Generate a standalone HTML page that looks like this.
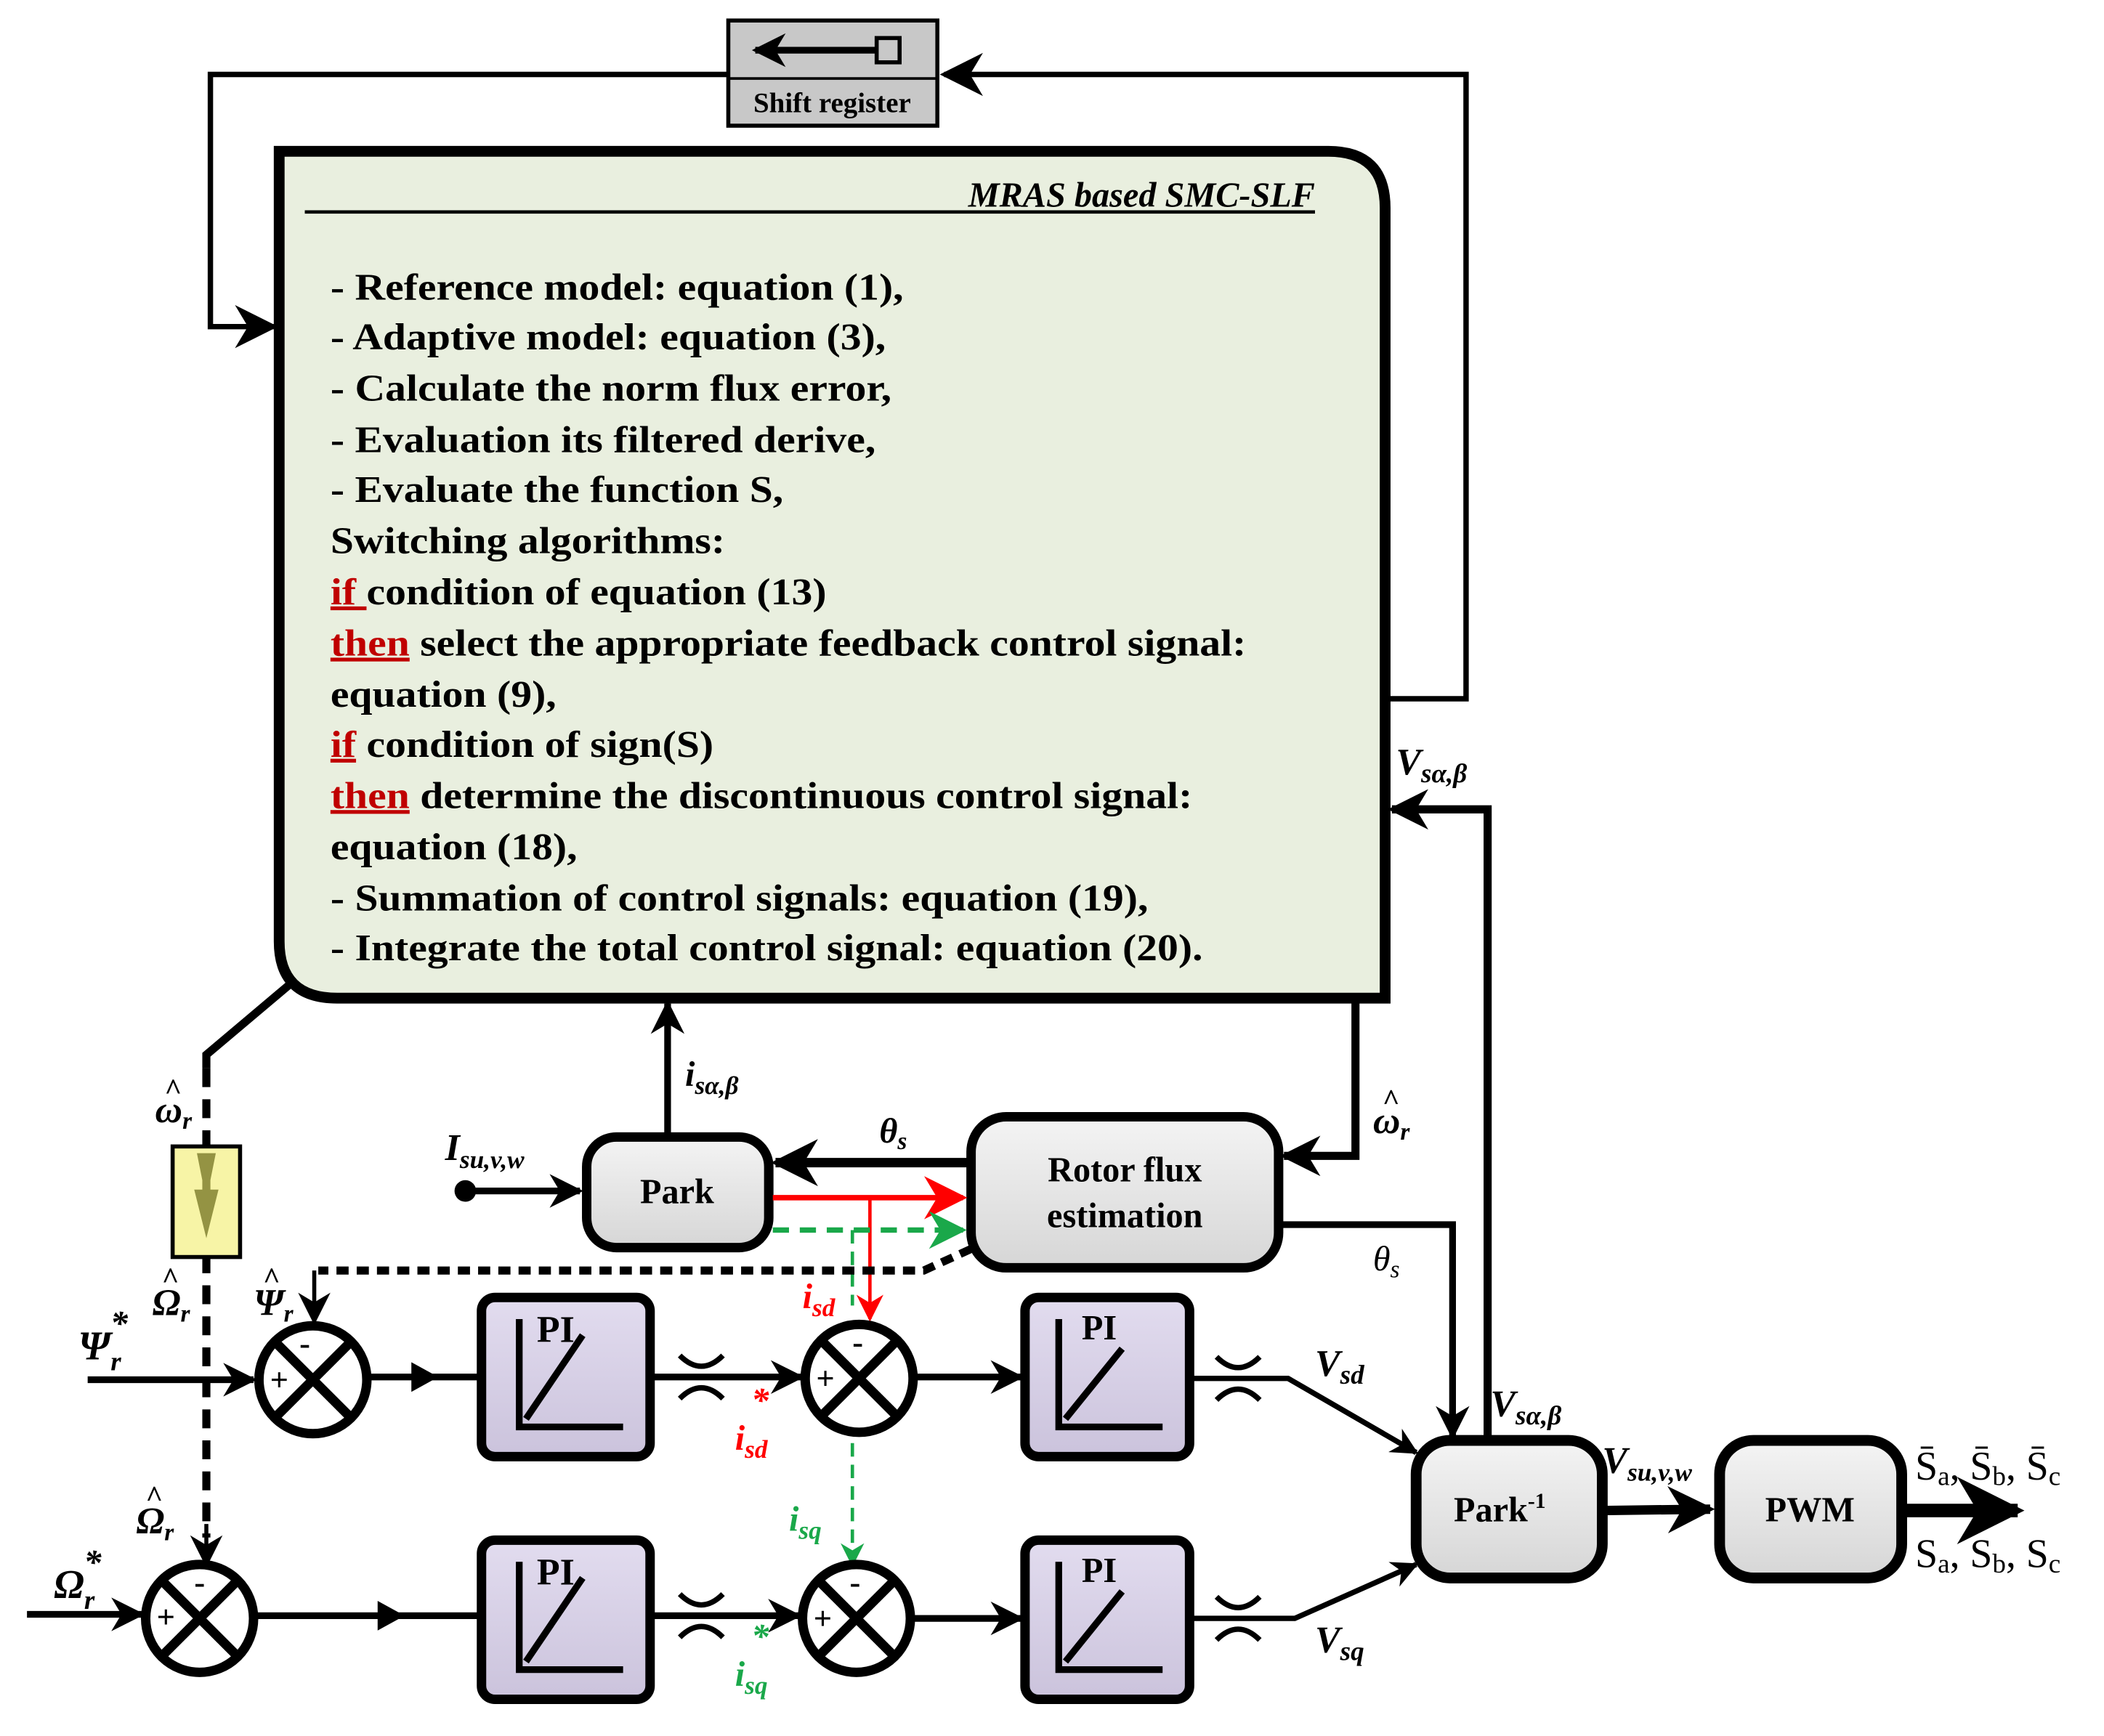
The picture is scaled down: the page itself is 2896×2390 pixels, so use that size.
<!DOCTYPE html>
<html><head><meta charset="utf-8"><style>
html,body{margin:0;padding:0;background:#fff}
svg{display:block}
text{font-family:"Liberation Serif",serif;font-weight:bold}
.it{font-style:italic}
</style></head><body>
<svg width="2896" height="2390" viewBox="0 0 1560 1287" xmlns="http://www.w3.org/2000/svg">
<defs>
<marker id="ah" viewBox="0 0 10 10" refX="9" refY="5" markerWidth="5" markerHeight="5" orient="auto-start-reverse"><path d="M0,0 L10,5 L0,10 L3,5z" fill="#000"/></marker>
<marker id="ahs" viewBox="0 0 10 10" refX="9" refY="5" markerWidth="8" markerHeight="8" orient="auto"><path d="M0,0 L10,5 L0,10 L3,5z" fill="#000"/></marker>
<marker id="ahr" viewBox="0 0 10 10" refX="9" refY="5" markerWidth="8" markerHeight="8" orient="auto"><path d="M0,0 L10,5 L0,10 L3,5z" fill="#f00"/></marker>
<marker id="ahg" viewBox="0 0 10 10" refX="9" refY="5" markerWidth="7" markerHeight="7" orient="auto"><path d="M0,0 L10,5 L0,10 L3,5z" fill="#1aa84a"/></marker>
<linearGradient id="gb" x1="0" y1="0" x2="0" y2="1"><stop offset="0" stop-color="#f4f4f4"/><stop offset="1" stop-color="#d6d6d6"/></linearGradient>
<linearGradient id="pb" x1="0" y1="0" x2="0" y2="1"><stop offset="0" stop-color="#e2dcef"/><stop offset="1" stop-color="#cbc3dc"/></linearGradient>
<g id="lim" fill="none" stroke="#000" stroke-width="4"><path d="M-16,-16 Q0,0 16,-16"/><path d="M-16,16 Q0,0 16,16"/></g>
<g id="sum"><circle r="40" fill="#fff" stroke="#000" stroke-width="7"/><path d="M-27,-27 L27,27 M27,-27 L-27,27" stroke="#000" stroke-width="7"/></g>
</defs>

<!-- shift register -->
<rect x="540" y="15" width="155" height="78" fill="#c8c8c8" stroke="#000" stroke-width="3"/>
<line x1="540" y1="58" x2="695" y2="58" stroke="#000" stroke-width="2"/>
<line x1="650" y1="37" x2="560" y2="37" stroke="#000" stroke-width="5" marker-end="url(#ah)"/>
<rect x="650" y="28" width="17" height="18" fill="#c8c8c8" stroke="#000" stroke-width="3"/>
<text x="617" y="83" font-size="21" text-anchor="middle">Shift register</text>

<!-- feedback loop -->
<polyline points="1028,518 1087,518 1087,55 700,55" fill="none" stroke="#000" stroke-width="4" marker-end="url(#ahs)"/>
<polyline points="540,55 156,55 156,242 203,242" fill="none" stroke="#000" stroke-width="4" marker-end="url(#ahs)"/>

<!-- main box -->
<path d="M207,112 L985,112 Q1027,112 1027,154 L1027,740 L250,740 Q207,740 207,698 Z" fill="#e9efdf" stroke="#000" stroke-width="8"/>
<text x="975" y="153" font-size="26" class="it" text-anchor="end">MRAS based SMC-SLF</text>
<line x1="226" y1="157" x2="975" y2="157" stroke="#000" stroke-width="2.5"/>
<g font-size="28" transform="translate(245,0) scale(1.11,1) translate(-245,0)">
<text x="245" y="222">- Reference model: equation (1),</text>
<text x="245" y="259">- Adaptive model: equation (3),</text>
<text x="245" y="297">- Calculate the norm flux error,</text>
<text x="245" y="335">- Evaluation its filtered derive,</text>
<text x="245" y="372">- Evaluate the function S,</text>
<text x="245" y="410">Switching algorithms:</text>
<text x="245" y="448"><tspan fill="#c00000" text-decoration="underline">if </tspan>condition of equation (13)</text>
<text x="245" y="486"><tspan fill="#c00000" text-decoration="underline">then</tspan> select the appropriate feedback control signal:</text>
<text x="245" y="524">equation (9),</text>
<text x="245" y="561"><tspan fill="#c00000" text-decoration="underline">if</tspan> condition of sign(S)</text>
<text x="245" y="599"><tspan fill="#c00000" text-decoration="underline">then</tspan> determine the discontinuous control signal:</text>
<text x="245" y="637">equation (18),</text>
<text x="245" y="675">- Summation of control signals: equation (19),</text>
<text x="245" y="712">- Integrate the total control signal: equation (20).</text>
</g>

<!-- omega hat left path -->
<polyline points="217,728 153,782 153,792" fill="none" stroke="#000" stroke-width="6"/>
<line x1="153" y1="792" x2="153" y2="1140" stroke="#000" stroke-width="6" stroke-dasharray="14,9"/>
<line x1="153" y1="1130" x2="153" y2="1160" stroke="#000" stroke-width="3" marker-end="url(#ahs)"/>
<text x="115" y="832" font-size="28" class="it">ω<tspan font-size="18" dy="5">r</tspan></text>
<text x="122" y="815" font-size="22">^</text>
<rect x="128" y="850" width="50" height="82" fill="#f7f4a6" stroke="#000" stroke-width="3"/>
<path d="M146,855 L160,855 L156,875 L156,882 L162,882 L153,918 L144,882 L150,882 L150,875 Z" fill="#7b7a2a" opacity="0.8"/>
<text x="113" y="975" font-size="28" class="it">Ω<tspan font-size="18" dy="5">r</tspan></text>
<text x="120" y="955" font-size="22">^</text>
<text x="101" y="1137" font-size="28" class="it">Ω<tspan font-size="18" dy="5">r</tspan></text>
<text x="108" y="1117" font-size="22">^</text>

<!-- Vs alpha beta to box -->
<polyline points="1103,1065 1103,600 1032,600" fill="none" stroke="#000" stroke-width="6" marker-end="url(#ah)"/>
<text x="1035" y="574" font-size="28" class="it">V<tspan font-size="20" dy="6">sα,β</tspan></text>
<text x="1105" y="1050" font-size="28" class="it">V<tspan font-size="20" dy="6">sα,β</tspan></text>

<!-- isab -->
<line x1="495" y1="840" x2="495" y2="744" stroke="#000" stroke-width="5" marker-end="url(#ah)"/>
<text x="508" y="805" font-size="26" class="it">i<tspan font-size="19" dy="6">sα,β</tspan></text>

<!-- omega hat right -->
<polyline points="1005,742 1005,857 952,857" fill="none" stroke="#000" stroke-width="6" marker-end="url(#ah)"/>
<text x="1018" y="840" font-size="28" class="it">ω<tspan font-size="18" dy="5">r</tspan></text>
<text x="1025" y="823" font-size="22">^</text>

<!-- Park -->
<rect x="435" y="843" width="135" height="82" rx="22" fill="url(#gb)" stroke="#000" stroke-width="7"/>
<text x="502" y="892" font-size="26" text-anchor="middle">Park</text>
<!-- Rotor flux -->
<rect x="720" y="828" width="228" height="112" rx="26" fill="url(#gb)" stroke="#000" stroke-width="7"/>
<text x="834" y="876" font-size="26" text-anchor="middle">Rotor flux</text>
<text x="834" y="910" font-size="26" text-anchor="middle">estimation</text>

<line x1="720" y1="862" x2="575" y2="862" stroke="#000" stroke-width="7" marker-end="url(#ah)"/>
<text x="652" y="847" font-size="26" class="it">θ<tspan font-size="18" dy="5">s</tspan></text>

<circle cx="345" cy="883" r="8" fill="#000"/>
<line x1="345" y1="883" x2="430" y2="883" stroke="#000" stroke-width="5" marker-end="url(#ah)"/>
<text x="330" y="860" font-size="28" class="it">I<tspan font-size="19" dy="6">su,v,w</tspan></text>

<!-- red -->
<line x1="573" y1="888" x2="714" y2="888" stroke="#f00" stroke-width="4" marker-end="url(#ahr)"/>
<line x1="645" y1="888" x2="645" y2="978" stroke="#f00" stroke-width="2.5" marker-end="url(#ahr)"/>
<text x="595" y="970" font-size="26" class="it" fill="#f00">i<tspan font-size="19" dy="6">sd</tspan></text>
<!-- green -->
<line x1="573" y1="912" x2="714" y2="912" stroke="#1aa84a" stroke-width="4" stroke-dasharray="12,8" marker-end="url(#ahg)"/>
<line x1="632" y1="912" x2="632" y2="968" stroke="#1aa84a" stroke-width="2.5" stroke-dasharray="10,6"/>
<line x1="632" y1="1070" x2="632" y2="1160" stroke="#1aa84a" stroke-width="2.5" stroke-dasharray="10,6" marker-end="url(#ahg)"/>
<text x="585" y="1135" font-size="26" class="it" fill="#1aa84a">i<tspan font-size="19" dy="6">sq</tspan></text>

<!-- dotted psi -->
<polyline points="720,926 685,942 236,942" fill="none" stroke="#000" stroke-width="6" stroke-dasharray="9,6"/>
<line x1="233" y1="942" x2="233" y2="980" stroke="#000" stroke-width="3" marker-end="url(#ahs)"/>
<text x="188" y="975" font-size="28" class="it">Ψ<tspan font-size="18" dy="5">r</tspan></text>
<text x="195" y="955" font-size="22">^</text>

<!-- theta to park-1 -->
<polyline points="948,908 1077,908 1077,1065" fill="none" stroke="#000" stroke-width="5" marker-end="url(#ah)"/>
<text x="1018" y="942" font-size="26" style="font-weight:normal" class="it">θ<tspan font-size="18" dy="5">s</tspan></text>

<!-- Row 1 -->
<line x1="65" y1="1023" x2="188" y2="1023" stroke="#000" stroke-width="5" marker-end="url(#ah)"/>
<text x="58" y="1008" font-size="30" class="it">Ψ<tspan font-size="20" dy="8">r</tspan><tspan font-size="26" dx="-8" dy="-26">*</tspan></text>
<use href="#sum" x="232" y="1023"/>
<text x="226" y="1004" font-size="24" text-anchor="middle">-</text>
<text x="207" y="1031" font-size="24" text-anchor="middle">+</text>
<line x1="272" y1="1021" x2="355" y2="1021" stroke="#000" stroke-width="5"/>
<path d="M305,1010 L325,1021 L305,1032 Z" fill="#000"/>
<rect x="357" y="962" width="125" height="118" rx="10" fill="url(#pb)" stroke="#000" stroke-width="7"/>
<text x="412" y="995" font-size="28" text-anchor="middle">PI</text>
<path d="M385,978 L385,1058 L462,1058 M390,1052 L432,990" fill="none" stroke="#000" stroke-width="5"/>
<line x1="482" y1="1021" x2="594" y2="1021" stroke="#000" stroke-width="5" marker-end="url(#ah)"/>
<use href="#lim" x="520" y="1021"/>
<text x="545" y="1075" font-size="26" class="it" fill="#f00">i<tspan font-size="19" dy="6">sd</tspan><tspan font-size="26" dx="-12" dy="-34">*</tspan></text>
<use href="#sum" x="637" y="1022"/>
<text x="636" y="1003" font-size="24" text-anchor="middle">-</text>
<text x="612" y="1030" font-size="24" text-anchor="middle">+</text>
<line x1="677" y1="1021" x2="757" y2="1021" stroke="#000" stroke-width="5" marker-end="url(#ah)"/>
<rect x="760" y="962" width="122" height="118" rx="10" fill="url(#pb)" stroke="#000" stroke-width="7"/>
<text x="815" y="993" font-size="26" text-anchor="middle">PI</text>
<path d="M785,978 L785,1058 L862,1058 M790,1052 L832,1000" fill="none" stroke="#000" stroke-width="5"/>
<polyline points="882,1022 955,1022 1050,1077" fill="none" stroke="#000" stroke-width="4" marker-end="url(#ah)"/>
<use href="#lim" x="918" y="1022"/>
<text x="975" y="1020" font-size="28" class="it">V<tspan font-size="20" dy="6">sd</tspan></text>

<!-- Row 2 -->
<line x1="20" y1="1197" x2="105" y2="1197" stroke="#000" stroke-width="5" marker-end="url(#ah)"/>
<text x="40" y="1185" font-size="30" class="it">Ω<tspan font-size="20" dy="8">r</tspan><tspan font-size="26" dx="-8" dy="-26">*</tspan></text>
<use href="#sum" x="148" y="1200"/>
<text x="148" y="1181" font-size="24" text-anchor="middle">-</text>
<text x="123" y="1207" font-size="24" text-anchor="middle">+</text>
<line x1="188" y1="1198" x2="355" y2="1198" stroke="#000" stroke-width="5"/>
<path d="M280,1187 L300,1198 L280,1209 Z" fill="#000"/>
<rect x="357" y="1142" width="125" height="118" rx="10" fill="url(#pb)" stroke="#000" stroke-width="7"/>
<text x="412" y="1175" font-size="28" text-anchor="middle">PI</text>
<path d="M385,1158 L385,1238 L462,1238 M390,1232 L432,1170" fill="none" stroke="#000" stroke-width="5"/>
<line x1="482" y1="1198" x2="592" y2="1198" stroke="#000" stroke-width="5" marker-end="url(#ah)"/>
<use href="#lim" x="520" y="1198"/>
<text x="545" y="1250" font-size="26" class="it" fill="#1aa84a">i<tspan font-size="19" dy="6">sq</tspan><tspan font-size="26" dx="-12" dy="-34">*</tspan></text>
<use href="#sum" x="635" y="1200"/>
<text x="634" y="1181" font-size="24" text-anchor="middle">-</text>
<text x="610" y="1208" font-size="24" text-anchor="middle">+</text>
<line x1="675" y1="1200" x2="757" y2="1200" stroke="#000" stroke-width="5" marker-end="url(#ah)"/>
<rect x="760" y="1142" width="122" height="118" rx="10" fill="url(#pb)" stroke="#000" stroke-width="7"/>
<text x="815" y="1173" font-size="26" text-anchor="middle">PI</text>
<path d="M785,1158 L785,1238 L862,1238 M790,1232 L832,1180" fill="none" stroke="#000" stroke-width="5"/>
<polyline points="882,1200 960,1200 1050,1160" fill="none" stroke="#000" stroke-width="4" marker-end="url(#ah)"/>
<use href="#lim" x="918" y="1200"/>
<text x="975" y="1225" font-size="28" class="it">V<tspan font-size="20" dy="6">sq</tspan></text>

<!-- Park-1 and PWM -->
<rect x="1050" y="1068" width="138" height="102" rx="25" fill="url(#gb)" stroke="#000" stroke-width="8"/>
<text x="1112" y="1128" font-size="26" text-anchor="middle">Park<tspan font-size="16" dy="-10">-1</tspan></text>
<line x1="1188" y1="1120" x2="1268" y2="1119" stroke="#000" stroke-width="7" marker-end="url(#ah)"/>
<text x="1188" y="1092" font-size="28" class="it">V<tspan font-size="19" dy="6">su,v,w</tspan></text>
<rect x="1275" y="1068" width="135" height="102" rx="25" fill="url(#gb)" stroke="#000" stroke-width="8"/>
<text x="1342" y="1128" font-size="26" text-anchor="middle">PWM</text>
<line x1="1410" y1="1120" x2="1496" y2="1120" stroke="#000" stroke-width="10" marker-end="url(#ah)"/>
<text x="1420" y="1097" font-size="30" style="font-weight:normal">S̄<tspan font-size="20" dy="4">a</tspan><tspan dy="-4">, S̄</tspan><tspan font-size="20" dy="4">b</tspan><tspan dy="-4">, S̄</tspan><tspan font-size="20" dy="4">c</tspan></text>
<text x="1420" y="1162" font-size="30" style="font-weight:normal">S<tspan font-size="20" dy="4">a</tspan><tspan dy="-4">, S</tspan><tspan font-size="20" dy="4">b</tspan><tspan dy="-4">, S</tspan><tspan font-size="20" dy="4">c</tspan></text>
</svg>
</body></html>
